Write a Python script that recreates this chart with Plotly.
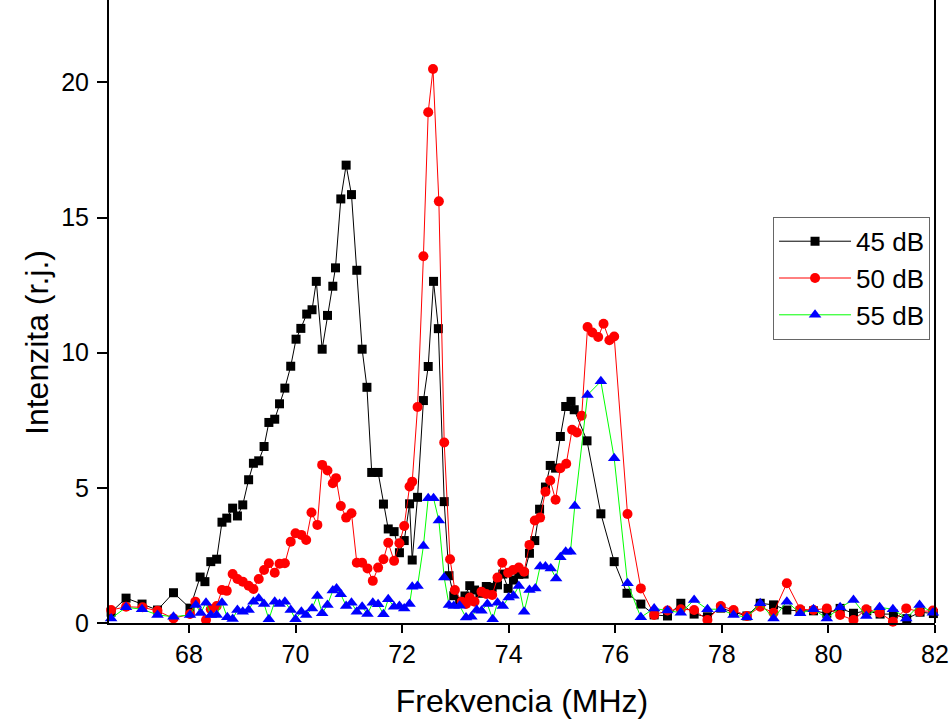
import plotly.graph_objects as go

# ---- data ----
x45 = [66.54, 66.82, 67.12, 67.41, 67.71, 68.02, 68.21, 68.30, 68.41, 68.52, 68.62, 68.71, 68.82, 68.91,
       69.01, 69.12, 69.21, 69.31, 69.41, 69.50, 69.61, 69.70, 69.80, 69.91, 70.01, 70.10, 70.21, 70.31,
       70.39, 70.50, 70.60, 70.70, 70.75, 70.85, 70.95, 71.05, 71.15, 71.25, 71.34, 71.43, 71.55, 71.65,
       71.74, 71.85, 71.95, 72.04, 72.14, 72.19, 72.29, 72.40, 72.49, 72.59, 72.68, 72.79, 72.88, 72.97,
       73.08, 73.18, 73.27, 73.36, 73.46, 73.58, 73.69, 73.79, 73.89, 73.99, 74.09, 74.19, 74.29, 74.39,
       74.49, 74.58, 74.69, 74.78, 74.88, 74.97, 75.07, 75.17, 75.23, 75.47, 75.73, 75.98, 76.22, 76.48,
       76.73, 76.98, 77.23, 77.48, 77.73, 77.98, 78.22, 78.47, 78.72, 78.97, 79.22, 79.47, 79.72, 79.97,
       80.22, 80.47, 80.72, 80.97, 81.22, 81.47, 81.72, 81.97]
y45 = [0.4, 0.92, 0.70, 0.48, 1.12, 0.55, 1.70, 1.53, 2.27, 2.36, 3.73, 3.88, 4.25, 3.96,
       4.37, 5.30, 5.91, 6.0, 6.53, 7.42, 7.54, 8.11, 8.69, 9.5, 10.5, 10.9, 11.43, 11.59,
       12.64, 10.13, 11.38, 12.46, 13.14, 15.69, 16.94, 15.85, 13.05, 10.13, 8.72, 5.57, 5.57, 4.40,
       3.48, 3.38, 2.60, 3.05, 4.41, 2.33, 4.65, 8.23, 9.49, 12.64, 10.89, 4.49, 1.75, 1.01,
       0.8, 1.0, 1.38, 1.22, 1.1, 1.35, 1.32, 1.41, 1.81, 1.28, 1.59, 1.80, 1.81, 2.58,
       3.05, 4.21, 5.03, 5.83, 5.73, 6.90, 8.01, 8.20, 7.89, 6.74, 4.04, 2.27, 1.10, 0.70,
       0.3, 0.26, 0.73, 0.33, 0.23, 0.55, 0.4, 0.26, 0.73, 0.67, 0.48, 0.45, 0.45, 0.36,
       0.54, 0.36, 0.45, 0.33, 0.33, 0.16, 0.4, 0.35]

x50 = [66.54, 66.82, 67.13, 67.41, 67.71, 68.02, 68.12, 68.32, 68.41, 68.52, 68.62, 68.71, 68.82, 68.91,
       69.01, 69.12, 69.21, 69.31, 69.41, 69.50, 69.61, 69.70, 69.80, 69.91, 70.00, 70.11, 70.20, 70.30,
       70.41, 70.50, 70.60, 70.70, 70.76, 70.85, 70.95, 71.05, 71.15, 71.25, 71.35, 71.45, 71.55, 71.65,
       71.74, 71.85, 71.95, 72.04, 72.14, 72.19, 72.29, 72.40, 72.49, 72.58, 72.69, 72.79, 72.90, 72.99,
       73.12, 73.20, 73.27, 73.36, 73.49, 73.58, 73.69, 73.79, 73.88, 73.99, 74.08, 74.19, 74.29, 74.39,
       74.49, 74.59, 74.69, 74.78, 74.88, 74.97, 75.08, 75.19, 75.28, 75.37, 75.48, 75.57, 75.68, 75.78,
       75.89, 75.98, 76.23, 76.48, 76.73, 76.98, 77.23, 77.48, 77.73, 77.98, 78.22, 78.47, 78.72, 78.97,
       79.22, 79.47, 79.72, 79.97, 80.22, 80.47, 80.71, 80.96, 81.21, 81.46, 81.71, 81.96]
y50 = [0.48, 0.6, 0.58, 0.45, 0.17, 0.33, 0.79, 0.11, 0.51, 0.63, 1.22, 1.19, 1.81, 1.63,
       1.53, 1.38, 1.26, 1.63, 1.96, 2.21, 1.86, 2.19, 2.21, 3.01, 3.32, 3.26, 3.07, 4.09,
       3.63, 5.85, 5.64, 5.17, 5.36, 4.33, 3.90, 4.06, 2.23, 2.23, 2.02, 1.56, 2.05, 2.36,
       2.97, 2.30, 2.95, 3.59, 5.05, 5.23, 7.99, 13.57, 18.9, 20.5, 15.6, 6.68, 2.36, 1.22,
       0.79, 0.7, 0.94, 0.79, 1.16, 1.07, 1.04, 1.68, 2.23, 1.86, 1.96, 2.05, 1.90, 2.89,
       3.79, 3.90, 4.86, 5.27, 4.56, 5.73, 5.89, 7.15, 7.05, 7.67, 10.95, 10.75, 10.58, 11.07,
       10.46, 10.60, 4.03, 1.28, 0.30, 0.46, 0.51, 0.48, 0.11, 0.63, 0.48, 0.26, 0.60, 0.38,
       1.47, 0.51, 0.48, 0.54, 0.30, 0.11, 0.51, 0.38, 0.05, 0.54, 0.42, 0.46]

x55 = [66.54, 66.82, 67.12, 67.41, 67.71, 68.02, 68.13, 68.22, 68.32, 68.41, 68.52, 68.62, 68.72, 68.82,
       68.91, 69.01, 69.12, 69.21, 69.31, 69.41, 69.50, 69.61, 69.70, 69.80, 69.91, 70.00, 70.11, 70.20,
       70.31, 70.41, 70.50, 70.60, 70.70, 70.77, 70.85, 70.95, 71.05, 71.15, 71.25, 71.35, 71.45, 71.55,
       71.65, 71.74, 71.85, 71.95, 72.04, 72.14, 72.19, 72.29, 72.40, 72.49, 72.59, 72.69, 72.79, 72.88,
       72.97, 73.08, 73.20, 73.30, 73.40, 73.49, 73.60, 73.70, 73.79, 73.89, 74.00, 74.09, 74.19, 74.29,
       74.39, 74.50, 74.59, 74.69, 74.79, 74.89, 74.97, 75.07, 75.16, 75.24, 75.48, 75.73, 75.98, 76.23,
       76.48, 76.73, 76.98, 77.23, 77.48, 77.73, 77.98, 78.22, 78.47, 78.72, 78.97, 79.22, 79.47, 79.72,
       79.97, 80.22, 80.47, 80.71, 80.96, 81.21, 81.46, 81.71, 81.96]
y55 = [0.17, 0.58, 0.51, 0.30, 0.23, 0.3, 0.67, 0.37, 0.75, 0.30, 0.30, 0.75, 0.21, 0.15,
       0.48, 0.42, 0.48, 0.79, 0.91, 0.70, 0.14, 0.79, 0.70, 0.79, 0.48, 0.14, 0.42, 0.30,
       0.54, 1.0, 0.36, 0.67, 1.20, 1.28, 1.06, 0.63, 0.75, 0.42, 0.60, 0.33, 0.75, 0.69,
       0.32, 0.88, 0.60, 0.63, 0.54, 0.70, 1.34, 1.37, 2.85, 4.62, 4.62, 3.79, 1.68, 0.67,
       0.63, 0.64, 0.2, 0.23, 0.48, 0.45, 0.70, 0.14, 0.75, 0.63, 0.94, 1.01, 1.37, 0.42,
       1.22, 1.28, 2.09, 2.09, 2.02, 1.65, 2.43, 2.64, 2.64, 4.33, 8.44, 8.94, 6.10, 1.47,
       0.21, 0.54, 0.46, 0.38, 0.85, 0.51, 0.51, 0.30, 0.21, 0.73, 0.17, 0.79, 0.36, 0.51,
       0.17, 0.58, 0.85, 0.26, 0.58, 0.51, 0.17, 0.67, 0.38]

series_names = ["45 dB", "50 dB", "55 dB"]
x_ticks = [68, 70, 72, 74, 76, 78, 80, 82]
y_ticks = [0, 5, 10, 15, 20]
x_title = "Frekvencia (MHz)"
y_title = "Intenzita (r.j.)"

FONT = "Liberation Sans, Arial, sans-serif"

fig = go.Figure()
fig.add_trace(go.Scatter(x=x45, y=y45, name=series_names[0], mode="lines+markers",
                         line=dict(color="#000000", width=1),
                         marker=dict(symbol="square", size=9, color="#000000"),
                         cliponaxis=False))
fig.add_trace(go.Scatter(x=x50, y=y50, name=series_names[1], mode="lines+markers",
                         line=dict(color="#ff0000", width=1),
                         marker=dict(symbol="circle", size=10, color="#ff0000"),
                         cliponaxis=False))
fig.add_trace(go.Scatter(x=x55, y=y55, name=series_names[2], mode="lines+markers",
                         line=dict(color="#00ff00", width=1),
                         marker=dict(symbol="triangle-up", size=11, color="#0000ff"),
                         cliponaxis=False))

fig.update_layout(
    width=951, height=722,
    margin=dict(l=109, r=16, t=0, b=99),
    paper_bgcolor="white", plot_bgcolor="white",
    font=dict(family=FONT, size=24, color="black"),
    showlegend=True,
    legend=dict(x=0.994, y=0.652, xanchor="right", yanchor="top",
                bordercolor="#666666", borderwidth=1, bgcolor="white",
                font=dict(size=26, family=FONT), itemwidth=72, tracegroupgap=0),
    xaxis=dict(range=[66.5, 82], tickvals=x_ticks, showgrid=False, zeroline=False,
               showline=True, linecolor="black", linewidth=2,
               ticks="outside", ticklen=8, tickwidth=2, tickcolor="black",
               tickfont=dict(size=25, family=FONT),
               title=dict(text=x_title, font=dict(size=32, family=FONT), standoff=23)),
    yaxis=dict(range=[0, 23.05], tickvals=y_ticks, showgrid=False, zeroline=False,
               showline=True, linecolor="black", linewidth=2,
               ticks="outside", ticklen=10, tickwidth=2, tickcolor="black",
               ticklabelstandoff=3,
               tickfont=dict(size=25, family=FONT)),
)
# y-axis title placed as in the reference (slightly below the plot centre)
fig.add_annotation(text=y_title, textangle=-90, xref="paper", yref="paper",
                   x=-0.0872, y=0.451, xanchor="center", yanchor="middle",
                   showarrow=False, font=dict(size=32, family=FONT, color="black"))
# right frame line
fig.add_shape(type="line", xref="paper", yref="paper", x0=1, x1=1, y0=0, y1=1,
              line=dict(color="black", width=2))

fig.write_html("out.html")
